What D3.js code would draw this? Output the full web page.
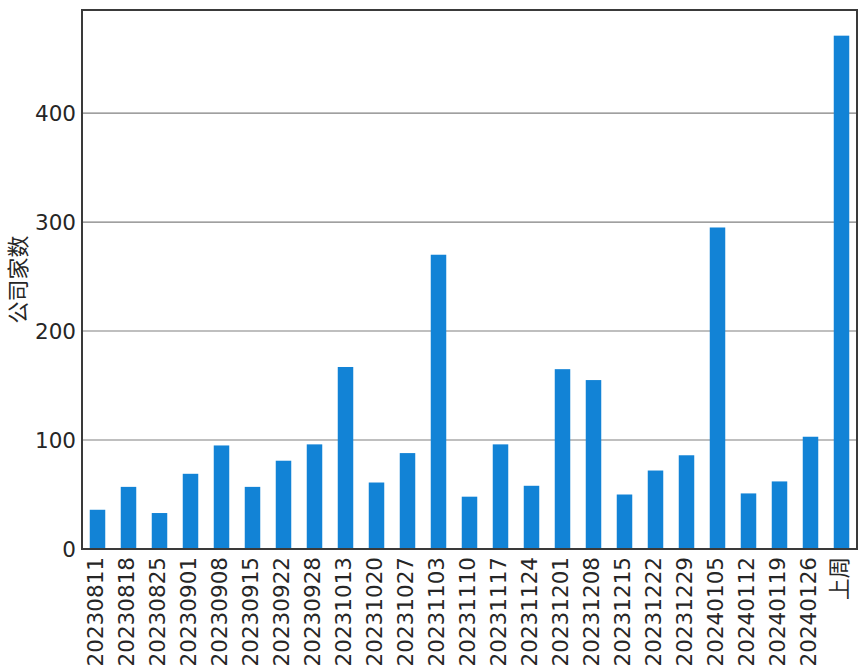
<!DOCTYPE html>
<html>
<head>
<meta charset="utf-8">
<script src="https://cdn.jsdelivr.net/npm/d3@7"></script>
<style>
  body { margin: 0; background: #fff; }
  text { font-family: "DejaVu Sans", sans-serif; fill: #262626; }
</style>
</head>
<body>
<div id="chart"></div>
<script>
var categories = ["20230811", "20230818", "20230825", "20230901", "20230908", "20230915",
    "20230922", "20230928", "20231013", "20231020", "20231027", "20231103", "20231110",
    "20231117", "20231124", "20231201", "20231208", "20231215", "20231222", "20231229",
    "20240105", "20240112", "20240119", "20240126", "上周"];
var counts = [36, 57, 33, 69, 95, 57, 81, 96, 167, 61, 88, 270, 48, 96, 58, 165, 155,
    50, 72, 86, 295, 51, 62, 103, 471];
var yTicks = [0, 100, 200, 300, 400];
var yLabel = "公司家数";

var W = 866, H = 668;
var margin = {top: 10, right: 9, bottom: 119, left: 82};
var width = W - margin.left - margin.right,
    height = H - margin.top - margin.bottom;

var svg = d3.select("#chart").append("svg")
    .attr("width", W)
    .attr("height", H);

var chart = svg.append("g")
    .attr("transform", "translate(" + margin.left + "," + margin.top + ")");

var x = d3.scaleBand().domain(categories).range([0, width]).paddingInner(0.5).paddingOuter(0.25);
var y = d3.scaleLinear().domain([0, d3.max(counts) * 1.05]).range([height, 0]);

// grid lines
chart.append("g")
    .selectAll("line")
    .data(yTicks)
    .enter().append("line")
    .attr("x1", 0)
    .attr("x2", width)
    .attr("y1", function(d) { return y(d); })
    .attr("y2", function(d) { return y(d); })
    .attr("stroke", "#808080")
    .attr("stroke-width", 1.2);

// bars
chart.selectAll(".bar")
    .data(counts)
    .enter().append("rect")
    .attr("class", "bar")
    .attr("x", function(d, i) { return x(categories[i]); })
    .attr("width", x.bandwidth())
    .attr("y", function(d) { return y(d); })
    .attr("height", function(d) { return height - y(d); })
    .attr("fill", "#1283d6");

// frame
chart.append("rect")
    .attr("width", width)
    .attr("height", height)
    .attr("fill", "none")
    .attr("stroke", "#3a3a3a")
    .attr("stroke-width", 2);

// y axis
var yAxis = chart.append("g")
    .call(d3.axisLeft(y).tickValues(yTicks).tickSize(0).tickPadding(6));
yAxis.select(".domain").remove();
yAxis.selectAll("text")
    .style("font-size", "21.5px")
    .attr("fill", "#262626")
    .attr("dy", "0.36em");

// x axis
var xAxis = chart.append("g")
    .attr("transform", "translate(0," + height + ")")
    .call(d3.axisBottom(x).tickSize(0).tickPadding(6));
xAxis.select(".domain").remove();
xAxis.selectAll("text")
    .style("font-size", "21.5px")
    .style("font-family", "'DejaVu Sans', 'Noto Sans CJK SC', sans-serif")
    .attr("fill", "#262626")
    .attr("transform", "rotate(-90)")
    .attr("text-anchor", "end")
    .attr("x", -8)
    .attr("y", 0)
    .attr("dy", "0.26em");

svg.append("text")
    .attr("transform", "translate(18," + (margin.top + height / 2) + ") rotate(-90)")
    .attr("text-anchor", "middle")
    .attr("dy", "0.35em")
    .style("font-family", "'Noto Sans CJK SC', sans-serif")
    .style("font-size", "22px")
    .text(yLabel);
</script>
</body>
</html>
